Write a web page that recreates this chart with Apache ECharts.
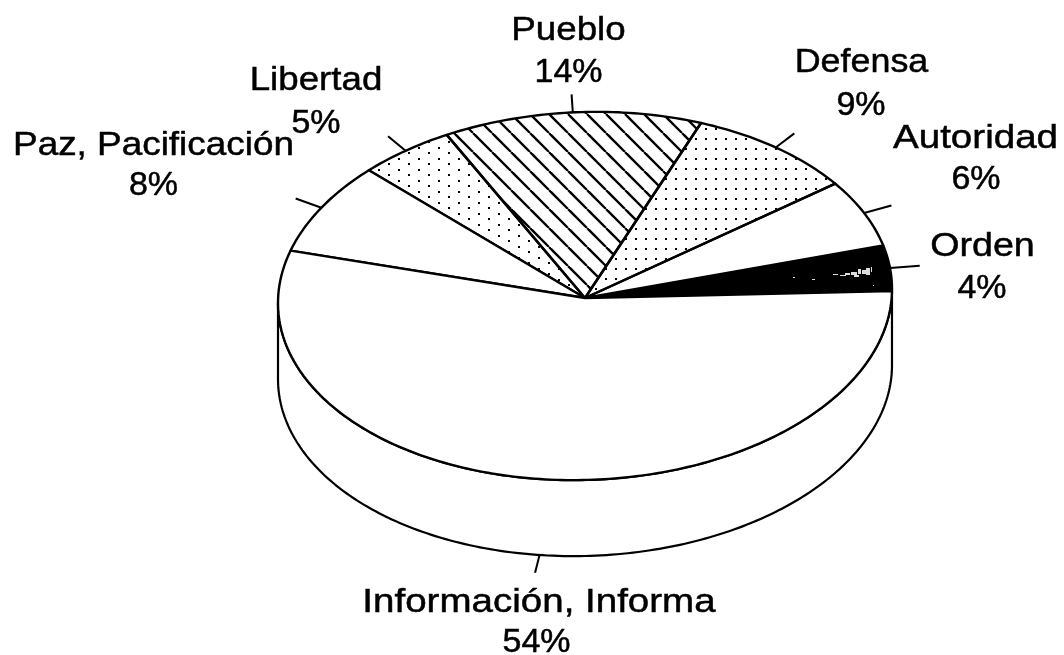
<!DOCTYPE html>
<html lang="en">
<head>
    <meta charset="UTF-8">
    <title>Pie</title>
    <style>html,body{margin:0;padding:0;background:#fff}</style>
</head>
<body>
<div id="main" style="width:1064px;height:655px"></div>
<script src="https://cdn.jsdelivr.net/npm/echarts@6/dist/echarts.min.js"></script>
<script type="text/javascript">
    // counter-clockwise from the right edge
    var names = ['Orden', 'Autoridad', 'Defensa', 'Pueblo', 'Libertad', 'Paz, Pacificación', 'Información, Informa'];
    var values = [4, 6, 9, 13.6, 5, 8, 54.4];

    // layout of the drawing
    var cx = 585, cy = 296, rx = 307, ry = 184, depth = 76, startDeg = -0.6;
    var tilt = 7; // the scanned ellipse leans a little to the right
    // name x, name y, percent x, percent y
    var labelPos = [
        [982.5, 246.5, 982, 288.5],
        [975.5, 138.5, 976, 180],
        [861.5, 62.5, 861, 105.5],
        [568.5, 30.5, 568.5, 72.5],
        [316, 80.5, 316, 123.5],
        [153.5, 145.5, 153.5, 186],
        [539, 602.5, 536.5, 643]
    ];
    var nameStretch = [1.107, 1.134, 1.055, 1.08, 1.08, 1.085, 1.133];

    function hatchPattern() {
        var c = document.createElement('canvas');
        c.width = 19; c.height = 19;
        var g = c.getContext('2d');
        g.strokeStyle = '#000';
        g.lineWidth = 2.3;
        for (var o = -38; o <= 38; o += 19) {
            g.beginPath();
            g.moveTo(17 + o, 0);
            g.lineTo(36 + o, 19);
            g.stroke();
        }
        return {image: c, repeat: 'repeat'};
    }

    // Defensa: plain grid of dots
    function gridDots() {
        var c = document.createElement('canvas');
        c.width = 10; c.height = 10;
        var g = c.getContext('2d');
        g.fillStyle = '#000';
        g.fillRect(5, 8, 2, 2);
        return {image: c, repeat: 'repeat'};
    }

    // Libertad: staggered dots
    function staggerDots() {
        var c = document.createElement('canvas');
        c.width = 20; c.height = 11;
        var g = c.getContext('2d');
        g.fillStyle = '#000';
        g.fillRect(8, 9, 2, 2);
        g.fillRect(18, 4, 2, 2);
        return {image: c, repeat: 'repeat'};
    }

    // Orden: black with the worn patch of the scan
    function wornBlack() {
        var c = document.createElement('canvas');
        c.width = 1064; c.height = 655;
        var g = c.getContext('2d');
        g.fillStyle = '#000';
        g.fillRect(0, 0, 1064, 655);
        g.fillStyle = '#ddd';
        var dabs = [[833, 274, 5, 1], [840, 275, 6, 1], [845, 273, 5, 2], [851, 272, 6, 3], [854, 275, 5, 2], [858, 269, 3, 5], [862, 270, 4, 4], [866, 268, 4, 7], [871, 267, 1, 5], [812, 279, 3, 1], [793, 277, 2, 1], [873, 285, 1, 1]];
        dabs.forEach(function (d) { g.fillRect(d[0], d[1], d[2], d[3]); });
        return {image: c, repeat: 'no-repeat'};
    }

    var fills = [wornBlack(), '#fff', gridDots(), hatchPattern(), staggerDots(), '#fff', '#fff'];

    function pt(deg, extraX, extraY, down) {
        var t = deg * Math.PI / 180;
        return [
            cx + (rx + (extraX || 0)) * Math.cos(t),
            cy - (ry + (extraY || 0)) * Math.sin(t) - tilt * Math.cos(t) + (down || 0)
        ];
    }

    function arc(a, b, down) {
        var pts = [];
        for (var d = a; d < b; d += 1) pts.push(pt(d, 0, 0, down));
        pts.push(pt(b, 0, 0, down));
        return pts;
    }

    function angleOf(v) {
        return echarts.number.linearMap(v, [0, 100], [startDeg, startDeg + 360]);
    }

    function labelText(text, x, y, stretch) {
        return {
            type: 'text',
            x: x,
            y: y,
            scaleX: stretch,
            style: {
                text: text,
                fontFamily: 'Liberation Sans',
                fontSize: 34,
                fill: '#000',
                stroke: '#000',
                lineWidth: 0.5,
                align: 'center',
                verticalAlign: 'middle'
            }
        };
    }

    function renderSlice(params, api) {
        var i = params.dataIndex;
        var sum = 0;
        for (var k = 0; k < i; k++) sum += values[k];
        var a = angleOf(sum), b = angleOf(sum + api.value(0));
        var mid = (a + b) / 2;
        var children = [];

        // side wall, only the part of the rim that faces the viewer
        var wa = Math.max(a, 180), wb = Math.min(b, 360);
        if (wb > wa) {
            var wall = arc(wa, wb, 0).concat(arc(wa, wb, depth).reverse());
            children.push({
                type: 'polygon',
                shape: {points: wall},
                style: {fill: '#fff', stroke: '#000', lineWidth: 2.2, lineJoin: 'round'}
            });
        }

        children.push({
            type: 'polygon',
            shape: {points: [[cx, cy + 2]].concat(arc(a, b, 0))},
            style: {fill: fills[i], stroke: '#000', lineWidth: 2.4, lineJoin: 'round'}
        });

        // short tick outside the rim
        var onWall = mid > 180 && mid < 360 ? depth : 0;
        var t0 = pt(mid, 0, 0, onWall), t1 = pt(mid, 30, 18, onWall);
        children.push({
            type: 'line',
            shape: {x1: t0[0], y1: t0[1], x2: t1[0], y2: t1[1]},
            style: {stroke: '#000', lineWidth: 2}
        });

        var p = labelPos[i];
        children.push(labelText(names[i], p[0], p[1], nameStretch[i]));
        children.push(labelText(Math.round(api.value(0)) + '%', p[2], p[3], 1));
        return {type: 'group', children: children};
    }

    var chart = echarts.init(document.getElementById('main'));
    chart.setOption({
        animation: false,
        backgroundColor: '#fff',
        series: [{
            type: 'custom',
            coordinateSystem: 'none',
            renderItem: renderSlice,
            data: values.map(function (v) { return [v]; })
        }]
    });
</script>
</body>
</html>
